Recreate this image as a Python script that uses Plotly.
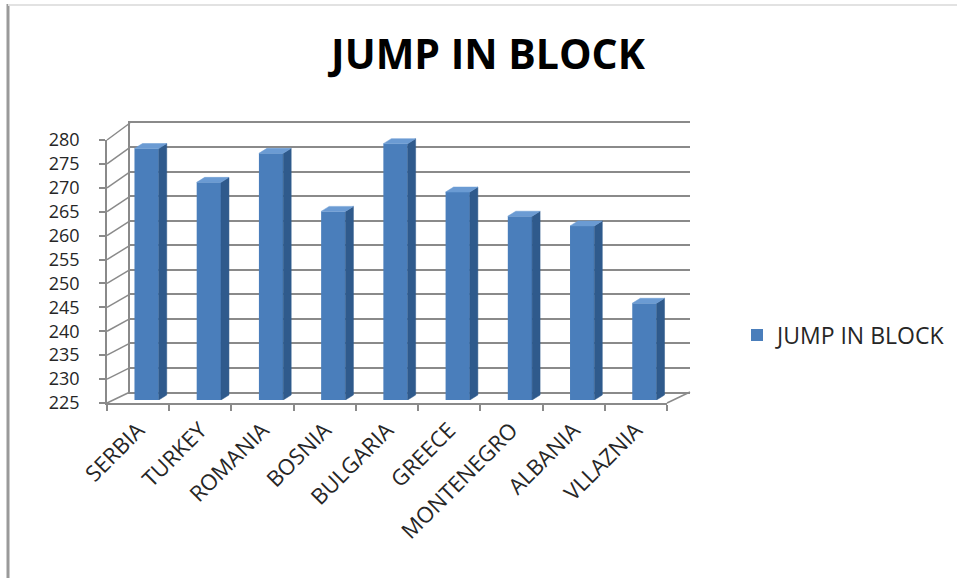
import numpy as np
import plotly.graph_objects as go

# ---- data ----
categories = ["SERBIA", "TURKEY", "ROMANIA", "BOSNIA", "BULGARIA",
              "GREECE", "MONTENEGRO", "ALBANIA", "VLLAZNIA"]
values = [277, 270, 276, 264, 278, 268, 263, 261, 245]
series_name = "JUMP IN BLOCK"
y_ticks = list(range(225, 281, 5))

# ---- layout geometry (pixels) ----
W, H = 957, 578
Y_MIN, Y_MAX = 225, 280
FONT = "Open Sans"
TEXT = "#262626"
GRID = "#8a8a8a"
FRONT = "#4a7ebb"
SIDE = "#2f5a8c"
TOP = "#6b9bd3"


def fx(p):
    return p / W


def fy(p):
    return 1 - p / H


# front plane (axis labels), back wall (gridlines), mid-depth (columns)
front = dict(x0=107, x1=667, y0=403, y1=140)
back = dict(x0=130, x1=690, y0=392, y1=123)
mid = dict(x0=115.5, x1=675.5, y0=400, y1=134)

idx = np.arange(len(categories))
bar_w = 0.39
# depth of a column, in data units of the mid axes
dx = 8 / ((mid["x1"] - mid["x0"]) / len(categories))
dy = 5 / ((mid["y0"] - mid["y1"]) / (Y_MAX - Y_MIN))

fig = go.Figure()

# invisible carrier for the front category axis
fig.add_trace(go.Scatter(x=categories, y=values, mode="markers",
                         marker=dict(opacity=0), showlegend=False,
                         hoverinfo="skip", xaxis="x", yaxis="y"))
# back wall carrier
fig.add_trace(go.Scatter(x=idx, y=values, mode="markers",
                         marker=dict(opacity=0), showlegend=False,
                         hoverinfo="skip", xaxis="x2", yaxis="y2"))

# column side and top faces
for i, v in zip(idx, values):
    xr = i + bar_w / 2
    fig.add_trace(go.Scatter(
        x=[xr, xr, xr + dx, xr + dx, xr],
        y=[Y_MIN, v, v + dy, Y_MIN + dy, Y_MIN],
        fill="toself", fillcolor=SIDE, mode="lines",
        line=dict(color=SIDE, width=0.5), showlegend=False,
        hoverinfo="skip", xaxis="x3", yaxis="y3"))
    xl = i - bar_w / 2
    fig.add_trace(go.Scatter(
        x=[xl, xr, xr + dx, xl + dx, xl],
        y=[v, v, v + dy, v + dy, v],
        fill="toself", fillcolor=TOP, mode="lines",
        line=dict(color=TOP, width=0.5), showlegend=False,
        hoverinfo="skip", xaxis="x3", yaxis="y3"))

# column front faces
fig.add_trace(go.Bar(x=idx, y=values, width=bar_w, name=series_name,
                     marker=dict(color=FRONT, line=dict(width=0)),
                     customdata=categories,
                     hovertemplate="%{customdata}: %{y}<extra></extra>",
                     xaxis="x3", yaxis="y3"))

shapes = []
# left side wall: connect front ticks with back gridlines
for v in y_ticks:
    t = (v - Y_MIN) / (Y_MAX - Y_MIN)
    yf = front["y0"] + t * (front["y1"] - front["y0"])
    yb = back["y0"] + t * (back["y1"] - back["y0"])
    shapes.append(dict(type="line", xref="paper", yref="paper",
                       x0=fx(front["x0"]), y0=fy(yf),
                       x1=fx(back["x0"]), y1=fy(yb),
                       line=dict(color=GRID, width=1.5), layer="below"))
# floor right edge
shapes.append(dict(type="line", xref="paper", yref="paper",
                   x0=fx(front["x1"]), y0=fy(front["y0"]),
                   x1=fx(back["x1"]), y1=fy(back["y0"]),
                   line=dict(color=GRID, width=1.5), layer="below"))
# chart border
shapes.append(dict(type="line", xref="paper", yref="paper",
                   x0=fx(8), y0=fy(4), x1=fx(8), y1=0,
                   line=dict(color="#9a9a9a", width=3)))
shapes.append(dict(type="line", xref="paper", yref="paper",
                   x0=fx(8), y0=fy(5), x1=1, y1=fy(5),
                   line=dict(color="#e2e2e2", width=2)))

hidden = dict(showgrid=False, zeroline=False, showticklabels=False,
              ticks="", automargin=False)

fig.update_layout(
    width=W, height=H,
    margin=dict(l=0, r=0, t=0, b=0, pad=0, autoexpand=False),
    paper_bgcolor="white", plot_bgcolor="rgba(0,0,0,0)",
    font=dict(family=FONT, color=TEXT),
    title=dict(text="<b>JUMP IN BLOCK</b>", x=fx(488), y=fy(55),
               xanchor="center", yanchor="middle", automargin=False,
               font=dict(size=41, family=FONT, color="#000000")),
    xaxis=dict(domain=[fx(front["x0"]), fx(front["x1"])], anchor="y",
               type="category", categoryorder="array",
               categoryarray=categories, range=[-0.5, len(categories) - 0.5],
               tickson="boundaries", ticks="outside", ticklen=6,
               tickcolor=GRID, tickwidth=1.5, showline=True,
               linecolor=GRID, linewidth=1.5, showgrid=False,
               tickangle=-45, ticklabelstandoff=4, automargin=False,
               tickfont=dict(size=22, family=FONT, color=TEXT)),
    yaxis=dict(domain=[fy(front["y0"]), fy(front["y1"])], anchor="x",
               range=[Y_MIN, Y_MAX], tickvals=y_ticks, ticks="outside",
               ticklen=6, tickcolor=GRID, tickwidth=1.5, showline=True,
               linecolor=GRID, linewidth=1.5, showgrid=False,
               zeroline=False, ticklabelstandoff=16, automargin=False,
               tickfont=dict(size=18, family=FONT, color=TEXT)),
    xaxis2=dict(domain=[fx(back["x0"]), fx(back["x1"])], anchor="y2",
                range=[-0.5, len(categories) - 0.5], showline=True,
                mirror=True, linecolor=GRID, linewidth=1.5, **hidden),
    yaxis2=dict(domain=[fy(back["y0"]), fy(back["y1"])], anchor="x2",
                range=[Y_MIN, Y_MAX], tickvals=y_ticks, showgrid=True,
                gridcolor=GRID, gridwidth=1.8, showline=True,
                linecolor=GRID, linewidth=1.5, zeroline=False,
                showticklabels=False, ticks="", automargin=False),
    xaxis3=dict(domain=[fx(mid["x0"]), fx(mid["x1"])], anchor="y3",
                range=[-0.5, len(categories) - 0.5], **hidden),
    yaxis3=dict(domain=[fy(mid["y0"]), fy(mid["y1"])], anchor="x3",
                range=[Y_MIN, Y_MAX], **hidden),
    shapes=shapes,
    showlegend=True,
    legend=dict(x=fx(737), y=fy(335), xanchor="left", yanchor="middle",
                bgcolor="rgba(0,0,0,0)",
                font=dict(size=23, family=FONT, color=TEXT)),
)

fig.write_html("out.html")
